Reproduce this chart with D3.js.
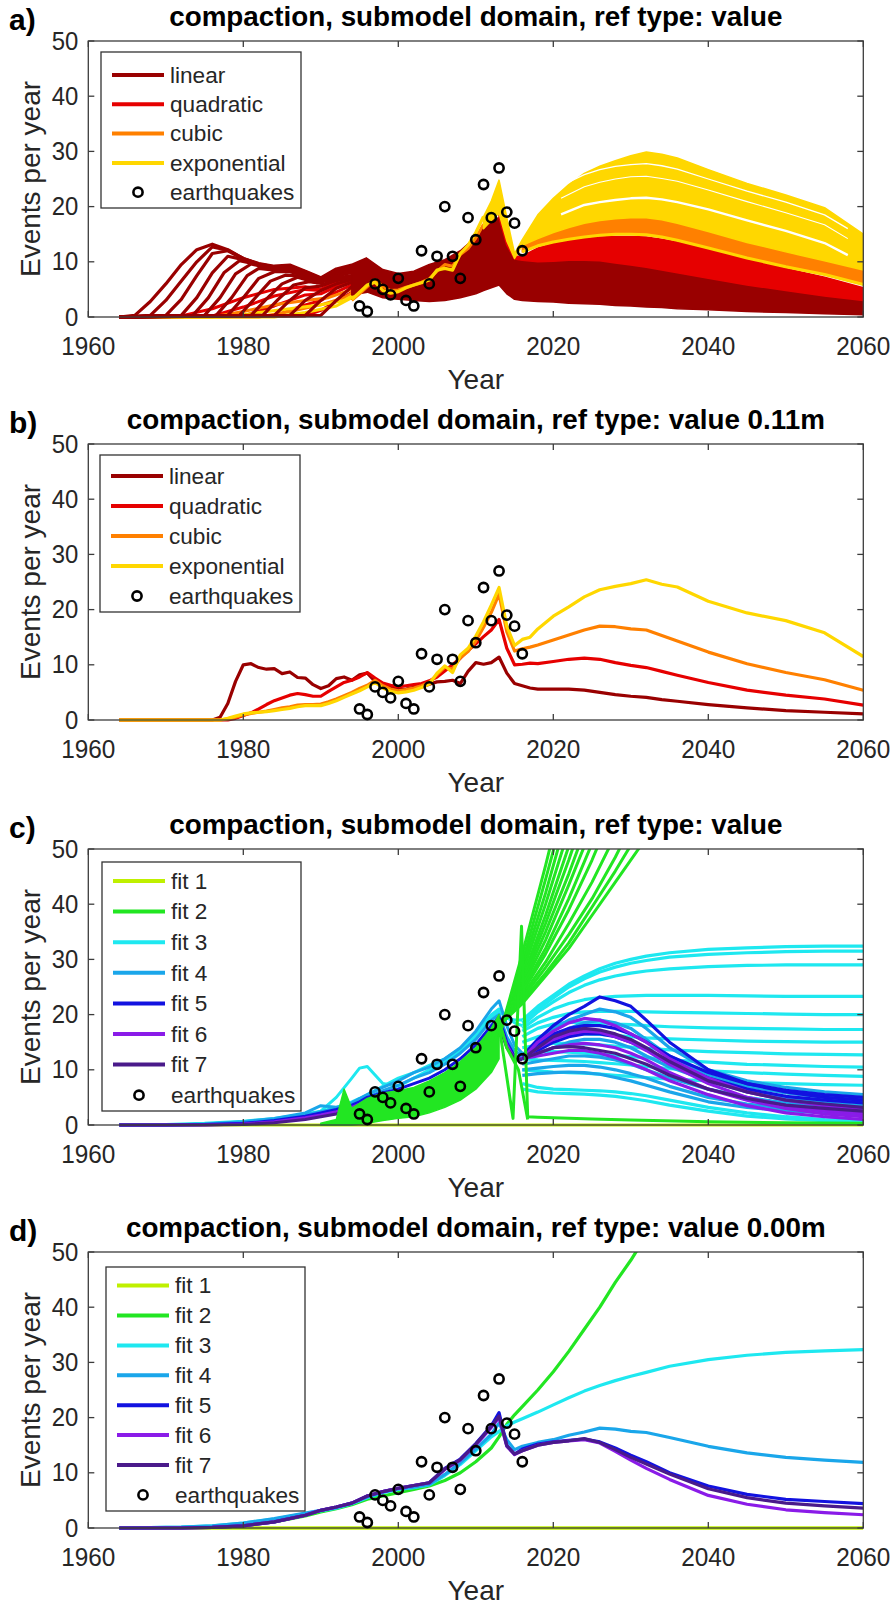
<!DOCTYPE html>
<html><head><meta charset="utf-8">
<script src="https://cdn.jsdelivr.net/npm/d3@7"></script>
<style>body{margin:0;background:#fff}svg text{font-family:'Liberation Sans',Arial,sans-serif}</style>
</head><body><svg id="c" width="896" height="1608"></svg>
<script>
// ================= DATA =================
const quakeYears  = [1995,1996,1997,1998,1999,2000,2001,2002,2003,2004,2005,2006,2007,2008,2009,2010,2011,2012,2013,2014,2015,2016];
const quakeCounts = [2,1,6,5,4,7,3,2,12,6,11,20,11,7,18,14,24,18,27,19,17,12];
const xTicks = [1960,1980,2000,2020,2040,2060];
const yTicks = [0,10,20,30,40,50];
const titles = ["compaction, submodel domain, ref type: value","compaction, submodel domain, ref type: value 0.11m","compaction, submodel domain, ref type: value","compaction, submodel domain, ref type: value 0.00m"];
const panelLabels = ["a)","b)","c)","d)"];
const modelNames = ["linear","quadratic","cubic","exponential"];
const fitNames = ["fit 1","fit 2","fit 3","fit 4","fit 5","fit 6","fit 7"];
const modelColors = ["#990000","#e60000","#ff8000","#ffd700"];
const fitColors = ["#bff000","#22e622","#1ee8f0","#1aa6ea","#1212e0","#8a1be8","#4a1a8a"];

// ---- panel a: ensemble (many runs) ----
const aLinearRuns = [
 [[1964,0],[1966,0.3],[1968,2.8],[1970,6],[1972,9.5],[1974,12.2],[1976,13.2],[1978,12.2],[1980,10.6],[1982,9.7],[1984,9.2],[1986,9.4],[1988,8.3],[1990,7.1],[1992,8.7],[1994,9.4],[1996,10.6]],
 [[1964,0],[1968,0.3],[1970,3],[1972,6.5],[1974,10],[1976,12.7],[1978,12.1],[1980,10.6],[1982,9.6],[1984,9.1],[1986,9.2],[1988,8.2],[1990,7],[1992,8.5],[1994,9.2],[1996,10.3]],
 [[1964,0],[1970,0.3],[1972,3.2],[1974,7.5],[1976,11.5],[1978,12],[1980,10.5],[1982,9.5],[1984,9],[1986,9.1],[1988,8.1],[1990,6.9],[1992,8.3],[1994,9.1],[1996,10]],
 [[1964,0],[1972,0.3],[1974,3.5],[1976,8],[1978,11],[1980,10.4],[1982,9.4],[1984,8.9],[1986,9],[1988,8],[1990,6.8],[1992,8.2],[1994,9],[1996,9.8]],
 [[1964,0],[1973.5,0.3],[1975.5,3.5],[1977.5,8],[1979.5,10.2],[1981.5,9.6],[1984,8.8],[1986,8.8],[1988,7.9],[1990,6.7],[1992,8],[1994,8.8],[1996,9.6]],
 [[1964,0],[1975,0.3],[1977,3.5],[1979,7.8],[1981,9.6],[1983,9],[1985,8.6],[1987,8.4],[1989,7.2],[1991,7],[1993,8.6],[1995,9],[1996,9.4]],
 [[1964,0],[1976.5,0.3],[1978.5,3.5],[1980.5,7.5],[1982,8.8],[1984,8.5],[1986,8.5],[1988,7.7],[1990,6.5],[1992,7.7],[1994,8.5],[1996,9.2]],
 [[1964,0],[1978,0.3],[1980,3.5],[1982,7],[1984,8.2],[1986,8.2],[1988,7.5],[1990,6.3],[1992,7.5],[1994,8.3],[1996,9]],
 [[1964,0],[1979.5,0.3],[1981.5,3.4],[1983.5,6.5],[1985.5,7.6],[1987.5,7.4],[1989.5,6.2],[1991.5,7],[1993.5,8.1],[1996,8.7]],
 [[1964,0],[1981,0.3],[1983,3.3],[1985,6],[1987,7.2],[1989,6.4],[1991,6.6],[1993,7.8],[1995,8.2],[1996,8.5]],
 [[1964,0],[1982.5,0.3],[1984.5,3.2],[1986.5,5.8],[1988.5,6.4],[1990.5,6],[1992.5,7.2],[1994.5,7.6],[1996,8.2]],
 [[1964,0],[1984,0.3],[1986,3],[1988,5.3],[1990,5.6],[1992,6.6],[1994,7.2],[1996,7.8]],
 [[1964,0],[1986,0.3],[1988,3],[1990,4.8],[1992,6],[1994,6.8],[1996,7.5]],
 [[1964,0],[1988,0.3],[1990,3],[1992,5.2],[1994,6.3],[1996,7.2]],
 [[1964,0],[1990,0.3],[1992,3],[1994,5.5],[1996,7]]
];
const aQuadRuns = [
 [[1964,0],[1972,0.2],[1976,1.5],[1980,3.5],[1984,5],[1988,5.5],[1990,5],[1992,6.5],[1994,7.5],[1996,8]],
 [[1964,0],[1976,0.2],[1980,1.8],[1984,3.8],[1988,5],[1990,4.8],[1992,6],[1994,7],[1996,7.8]],
 [[1964,0],[1980,0.2],[1984,2],[1988,4],[1990,4.2],[1992,5.5],[1994,6.5],[1996,7.5]],
 [[1964,0],[1984,0.2],[1988,2.2],[1990,3],[1992,4.5],[1994,5.8],[1996,7]],
 [[1964,0],[1988,0.2],[1990,1.2],[1992,2.8],[1994,4.5],[1996,6.3]]
];
const aCubicRuns = [
 [[1964,0],[1976,0],[1980,1],[1984,2.2],[1988,3],[1991,3.5],[1994,5],[1996,6.5]],
 [[1964,0],[1982,0],[1986,1],[1990,2.2],[1993,3.5],[1996,6]]
];
const aExpRuns = [
 [[1964,0],[1978,0],[1982,0.8],[1986,1.5],[1990,2.2],[1993,3],[1995,4.5],[1996,5.5]],
 [[1964,0],[1984,0],[1988,0.8],[1992,2],[1994,3.5],[1996,5.2]]
];
const aHistYears = [1994,1995,1996,1997,1998,1999,2000,2001,2002,2003,2004,2005,2006,2007,2008,2009,2010,2011];
const aCubicHist = [3,4.2,5.5,6.8,5.5,4.8,4.9,5.4,5.8,6.3,6.9,8.3,9.5,9.2,11.3,12.4,14.3,16.8];
const aExpHist   = [3.2,4.5,5.8,6.3,4.8,4.3,4.6,5.3,5.8,6.2,6.7,8.5,8.8,8.5,11.5,13,15.3,18.2];
const aBandYears  = [1994,1996,1998,2000,2002,2004,2006,2008,2010,2011,2012,2013,2014,2015,2016,2018,2020,2022,2024,2026,2028,2030,2032,2034,2036,2040,2045,2050,2055,2060];
const aLinearLow  = [4,4.5,3.5,3.2,3,2.8,3,3.5,4.2,4.8,5.3,5.8,4.2,3.2,3,2.8,2.7,2.5,2.4,2.3,2.1,2,1.8,1.7,1.5,1.3,1,0.8,0.6,0.4];
const aLinearHigh = [9.4,10.6,8.6,7.9,8.3,9.5,10.4,12,14.5,16.2,17.5,18,13,10.5,10.3,10,10.1,10.3,10.3,10.2,9.8,9.4,9,8.5,8,7,5.8,4.8,3.8,3];
const aQuadHigh   = [null,null,null,null,null,null,null,null,null,null,null,18.6,13.8,11,11,12.5,13.3,13.8,14.2,14.5,14.6,14.6,14.5,14.1,13.6,12.3,10.5,8.8,7.2,5.3];
const aExpThin    = [null,null,null,null,null,null,null,null,null,null,null,null,null,null,11.8,12.9,13.6,14.1,14.5,14.8,15,15,14.9,14.5,13.9,12.5,10.7,9.1,7.7,5.9];
const aCubicHigh  = [null,null,null,null,null,null,null,null,null,null,null,null,null,null,13,14.2,15.3,16.2,17,17.5,17.8,18,18,17.6,17,15.5,13.5,11.8,10.2,8.5];
const aExpLow     = [null,null,null,null,null,null,null,null,null,16,17.5,18.8,13.8,10.6,13,14.2,15.3,16.2,17,17.5,17.8,18,18,17.6,17,15.5,13.5,11.8,10.2,8.5];
const aExpHigh    = [null,null,null,null,null,null,null,null,null,18.2,21,24.8,18,11.5,14,18.5,21.5,24,26,27.3,28.3,29.2,29.9,29.5,28.8,26.7,24.2,22.1,19.8,15];
const aGapYears = [2021,2024,2026,2028,2030,2032,2034,2036,2040,2045,2050,2055,2058];
const aGapUpper = [23.8,25.8,26.7,27.3,27.6,27.8,27.4,26.8,25,22.8,20.8,18.5,16];
const aGapInner = [21.5,23.6,24.4,25,25.4,25.5,25.1,24.6,23,20.9,18.9,16.7,14.2];
const aGapMain  = [18.6,20.3,20.8,21.2,21.5,21.6,21.3,20.8,19.5,17.5,15.6,13.4,11.2];

// ---- panel b: one run per model ----
const bYears = [1964,1976,1977,1978,1979,1980,1981,1982,1983,1984,1985,1986,1987,1988,1989,1990,1991,1992,1993,1994,1995,1996,1997,1998,1999,2000,2001,2002,2003,2004,2005,2006,2007,2008,2009,2010,2011,2012,2013,2014,2015,2016,2017,2018,2020,2022,2024,2026,2028,2030,2032,2034,2036,2040,2045,2050,2055,2060];
const bLinear = [0,0,0.5,3,7,10,10.2,9.5,9.2,9.3,8.4,8.7,7.7,7.6,6.4,5.7,6.2,7.5,7.8,7.2,8.2,8.5,7,6.4,5.9,5.5,5.6,5.9,6,6.5,6.9,7,7.2,6.6,8.8,10.4,10.1,10.4,11.4,8.5,6.6,6.2,5.8,5.6,5.6,5.6,5.4,5,4.6,4.3,4.1,3.7,3.4,2.8,2.2,1.7,1.4,1.1];
const bQuad = [0,0,0,0,0.3,0.8,1.3,2,2.8,3.5,4,4.5,4.8,4.6,4.3,4.3,5.2,6,6.8,7.2,7.8,8.6,7.6,6.7,6.3,6,6.2,6.4,6.6,7.1,7.8,8.9,10,11.2,12.6,13.8,15.1,16.3,18.2,13,10,10.1,10.3,10.2,10.6,11,11.2,11,10.4,9.9,9.5,8.8,8.1,6.8,5.4,4.5,3.8,2.7];
const bCubic = [0,0,0,0.2,0.5,0.9,1.2,1.4,1.6,1.9,2.2,2.4,2.7,2.8,2.8,2.9,3.3,3.8,4.4,5,5.7,6.3,7.2,6.2,5.6,5.3,5.5,5.8,6.2,6.8,8.2,9.6,9.2,11.3,12.4,14.3,16.8,19.5,22.8,16,12.5,12.9,13.2,13.6,14.5,15.4,16.3,17,16.9,16.5,16.3,15.3,14.3,12.3,10.2,8.6,7.3,5.4];
const bExp = [0,0,0,0.3,0.7,1.1,1.3,1.4,1.5,1.7,1.9,2.1,2.4,2.6,2.6,2.6,3,3.5,4.1,4.7,5.3,6,6.8,5.8,5.2,4.9,5.1,5.4,5.9,6.5,8.5,9.8,8.6,11.8,13,15.2,17.8,20.8,24,17,13.5,14.6,15,16.5,18.8,20.5,22.3,23.6,24.2,24.7,25.4,24.6,24.1,21.5,19.4,18,15.8,11.5];

// ---- panel c: ensemble of fits ----
const cFit1Years = [1964,2060];
const cFit1 = [0,0];
const cHistYears = [1964,1970,1975,1980,1984,1988,1990,1992,1994,1995,1996,1998,2000,2002,2004,2006,2008,2010,2012,2013,2014,2015,2016];
const cHistCyan = [
 [0,0,0.1,0.3,0.7,1.5,2.5,5,8.5,10.3,10.6,7.5,7,8.5,10,11.5,13.5,16,19.5,20.5,19.5,19,19],
 [0,0.1,0.3,0.7,1.2,2,2.5,3.2,4.2,4.8,5.5,7,8.5,9.5,10.8,12,13.8,16.5,20,21,19.5,18.5,18]
];
const cHistLightBlue = [
 [0,0,0.2,0.6,1.2,2.2,3.5,3.2,4,4.8,5.5,6.8,8,9.5,10.5,12,14,17,21,22.5,18,14.5,13],
 [0,0,0.1,0.4,0.9,1.8,2.4,3,3.8,4.3,5,6.2,7.2,8.5,9.5,11,13,15.5,19,20,16,13.5,12.5]
];
const cHistBlue   = [[0,0,0.1,0.3,0.8,1.6,2.2,2.8,3.6,4.2,5,5.8,6.5,7.5,8.5,10,12,14.5,18,19.5,15,12.5,12]];
const cHistViolet = [[0,0,0,0.2,0.6,1.3,1.8,2.4,3.2,3.8,4.5,5,5.5,6.5,7.5,9,11,13.5,17,18.5,14.5,12,12]];
const cHistPurple = [[0,0,0,0.1,0.4,1,1.5,2,2.8,3.3,4,4.5,5,6,7,8.5,10.5,13,16.5,18,14,12,11.8]];
const cGreenBandYears = [1990,1992,1993,1994,1996,1998,2000,2002,2004,2006,2008,2010,2012,2013];
const cGreenLow  = [0,0,0,0,0.3,0.8,1.2,1.5,2.2,3.2,4.5,6.5,9.5,12];
const cGreenHigh = [0.3,1,6.5,3,4.8,5.8,6.2,6.8,8,9.5,11.5,14,17.5,20];
const cGreenFanYears = [2013,2016,2019,2022,2025,2028,2031,2034];
const cGreenFan = [
 [16,31,47,64,82,100,120,140],
 [16,29.5,44.5,60,77,95,115,135],
 [16.5,28.5,42,57,73,91,110,130],
 [17,27.5,40,53.5,68,84,101,119],
 [17,26.5,38,50.5,64,79,95,112],
 [17.5,26,36.5,48,60.5,74,89,105],
 [17.5,25.5,35,45.5,57,70,84,99],
 [18,25,33.5,43.5,54,66,79,93],
 [18,24.5,32,41,51,62,74,87],
 [18,24,31,39,48,58,69,81],
 [18,23.5,29.5,36.5,44,52.5,62,72],
 [18,23,28.5,34.5,41,48.5,57,66],
 [18,22.5,27.5,33,39.5,46,53,61],
 [18,22,27,32,38,44,50,57]
];
const cGreenDropYears = [2012,2013,2014.8,2015.9,2016.7,2018,2020,2025,2030,2040,2050,2060];
const cGreenDrop = [16,18,1.2,36,1.5,1.4,1.3,1.1,0.9,0.6,0.4,0.3];
const cGreenDrop2Years = [2012,2013,2014,2015.5,2016.7];
const cGreenDrop2 = [15,19,14,10,1];
const cFcYears = [2016,2018,2020,2022,2024,2026,2028,2030,2032,2035,2040,2045,2050,2055,2060];
const cCyanRuns = [
 [19,21.5,23.5,25.5,27,28.3,29.3,30,30.6,31.2,31.8,32.1,32.3,32.4,32.4],
 [18.5,21,23,25,26.5,27.7,28.6,29.3,29.8,30.4,30.9,31.2,31.4,31.5,31.5],
 [18,20.5,22.3,24,25.3,26.3,27,27.5,27.9,28.3,28.7,28.9,29,29,29],
 [17.5,19.5,21,22,22.7,23.1,23.3,23.4,23.5,23.5,23.5,23.4,23.3,23.3,23.3],
 [17,18.5,19.5,20.2,20.5,20.6,20.6,20.6,20.5,20.4,20.3,20.2,20.1,20,20],
 [16,17.5,18.3,18.6,18.6,18.5,18.3,18.2,18,17.8,17.6,17.5,17.4,17.3,17.3],
 [15,16,16.5,16.6,16.5,16.4,16.2,16,15.8,15.6,15.4,15.2,15.1,15,15],
 [14,14.5,14.8,14.8,14.7,14.5,14.3,14.1,13.9,13.6,13.3,13.1,12.9,12.8,12.7],
 [13,13.2,13.3,13.2,13,12.8,12.6,12.4,12.2,11.8,11.4,11,10.8,10.6,10.5],
 [12,11.8,11.7,11.6,11.5,11.3,11.1,10.9,10.6,10.2,9.8,9.5,9.2,9,8.8],
 [10,9.8,9.6,9.5,9.4,9.2,9,8.8,8.6,8.3,8,7.7,7.5,7.3,7.2],
 [7.5,6.8,6.5,6.4,6.3,6.2,6,5.7,5.3,4.5,3.2,2.2,1.5,1,0.8],
 [6.5,6,5.8,5.7,5.6,5.4,5.2,4.8,4.4,3.6,2.5,1.6,1.1,0.8,0.6]
];
const cLightBlueRuns = [
 [12,15,17.5,19,20,21,20.5,19.5,17.5,14,10,8,6.8,6,5.5],
 [12,14,16,17.5,18.5,19,18.5,17.5,15.5,12.5,9,7,5.8,5,4.5],
 [12,13,14,15,15.5,15.5,15,14,12.5,10.5,8,6,4.8,4,3.5],
 [11,11.5,12,12.5,12.5,12.3,11.8,11,10,8.5,6.5,5,4,3.2,2.8],
 [10,10.3,10.6,10.8,10.8,10.5,10,9.3,8.5,7,5,3.8,3,2.5,2.2],
 [9,9.3,9.5,9.6,9.5,9.2,8.6,8,7.2,6,4.2,3.2,2.6,2.2,2]
];
const cBlueRuns = [
 [12.5,15.5,18,20,21.5,23.2,22.5,21.5,19,15,10,7.5,6,5,4.5],
 [12,14.5,16.5,17.5,18,18,17.5,16.5,15,12.5,9.5,7.5,6.3,5.5,5],
 [12,13.5,15,16,16.5,16.5,16,15,13.8,11.5,8.5,6.5,5.2,4.5,4]
];
const cVioletRuns = [
 [12,15,17,18.5,19.3,19,18,16.5,15,12,8.5,6,4.5,3.5,3],
 [12,14,15.5,16.5,17,16.8,16,15,13.5,11,7.5,5,3.5,2.5,2],
 [12,13,14,14.5,14.8,14.5,14,13,11.8,9.5,6.5,4.5,3,2,1.5],
 [12,12.5,13,13.5,13.5,13,12.2,11.2,10,8,5.5,3.5,2.2,1.5,1]
];
const cPurpleRuns = [
 [12,14,16,17,17.5,17.2,16.5,15.5,14,11.5,8,6,4.5,3.8,3.2],
 [12,13,14,14.2,14,13.5,13,12,11,9,6.5,4.8,3.6,3,2.5]
];

// ---- panel d: one run per fit ----
const dYears = [1964,1968,1972,1976,1980,1984,1988,1990,1992,1994,1996,1998,2000,2002,2004,2006,2008,2010,2012,2013,2014,2015,2016,2018,2020,2022,2024,2026,2028,2030,2032,2035,2040,2045,2050,2055,2060];
const dFit1Years = [1964,2060];
const dFit1 = [0,0];
const dFit2 = [0,0,0.05,0.2,0.5,1.1,2.2,2.9,3.5,4.2,5.2,5.8,6.4,7,7.6,8.6,10,12,14.5,16.5,18.8,20.5,22,25,28.3,32,36,40,44.5,48.5,53,60,75,92,112,135,160];
const dFit3 = [0,0.05,0.15,0.4,0.9,1.6,2.6,3.1,3.6,4.4,5.5,6.4,7,7.3,7.8,9.5,11.5,14,16.5,17.5,18.5,19.2,19.8,21,22.3,23.6,24.8,25.8,26.7,27.5,28.2,29.3,30.5,31.3,31.8,32.1,32.3];
const dFit4 = [0,0.05,0.15,0.4,0.9,1.7,2.7,3.2,3.7,4.5,5.6,6.5,7.1,7.4,7.9,9.7,11.8,14.3,17,19,16,14.2,14.8,15.5,16,16.8,17.4,18.1,17.9,17.5,17.3,16.4,14.8,13.6,12.8,12.3,11.9];
const dFit5 = [0,0,0,0.1,0.4,1.1,2.3,3.2,3.8,4.5,5.8,6.6,7.2,7.7,8.2,10.8,12.5,15.3,18.5,20.9,15,13.4,14.3,15.2,15.6,15.9,16.1,15.6,14.5,13.2,12,10,7.6,6.1,5.2,4.8,4.4];
const dFit6 = [0,0,0,0.1,0.4,1.1,2.3,3.2,3.8,4.5,5.8,6.6,7.2,7.7,8.2,10.6,12.3,15,18.2,20,14.8,13.3,14,15,15.5,15.8,16,15.4,13.9,12.3,10.8,8.8,5.9,4.3,3.3,2.8,2.4];
const dFit7 = [0,0,0,0.1,0.4,1.1,2.3,3.2,3.8,4.5,5.8,6.6,7.2,7.7,8.2,10.7,12.4,15.2,18.4,20.3,14.9,13.4,14,15,15.5,15.8,16.2,15.5,14.2,12.8,11.6,9.8,7.1,5.5,4.5,4,3.6];

// ================= DRAWING =================
const svg = d3.select('#c');
const X0 = 88.3, X1 = 863.3, PH = 276;
const panelTops = [41,444,849,1252];
const x = d3.scaleLinear().domain([1960,2060]).range([X0,X1]);
const defs = svg.append('defs');

function makePanel(i){
  const top = panelTops[i], bot = top + PH;
  const y = d3.scaleLinear().domain([0,50]).range([bot,top]);
  defs.append('clipPath').attr('id','clip'+i).append('rect')
    .attr('x',X0).attr('y',top).attr('width',X1-X0).attr('height',PH+2.5);
  const g = svg.append('g');
  const data = g.append('g').attr('clip-path',`url(#clip${i})`);
  return {i, top, bot, y, g, data};
}
function gridLine(P, years, vals, color, w){
  const ln = d3.line().defined(d=>d[1]!=null).x(d=>x(d[0])).y(d=>P.y(d[1]));
  P.data.append('path').datum(years.map((yr,k)=>[yr,vals[k]]))
    .attr('d',ln).attr('fill','none').attr('stroke',color).attr('stroke-width',w)
    .attr('stroke-linejoin','round').attr('stroke-linecap','butt');
}
function pairLine(P, pairs, color, w){ gridLine(P, pairs.map(p=>p[0]), pairs.map(p=>p[1]), color, w); }
function band(P, years, lo, hi, color){
  const ar = d3.area().defined(d=>d[1]!=null && d[2]!=null)
    .x(d=>x(d[0])).y0(d=>P.y(d[1])).y1(d=>P.y(d[2]));
  P.data.append('path').datum(years.map((yr,k)=>[yr,lo[k],hi[k]]))
    .attr('d',ar).attr('fill',color).attr('stroke',color).attr('stroke-width',1.5).attr('stroke-linejoin','round');
}
function axes(P){
  const g = P.g, y = P.y, ax = '#3c3c3c';
  g.append('rect').attr('x',X0).attr('y',P.top).attr('width',X1-X0).attr('height',PH)
    .attr('fill','none').attr('stroke',ax).attr('stroke-width',1.3);
  xTicks.forEach(t=>{
    g.append('line').attr('x1',x(t)).attr('x2',x(t)).attr('y1',P.bot).attr('y2',P.bot-6).attr('stroke',ax).attr('stroke-width',1.3);
    g.append('line').attr('x1',x(t)).attr('x2',x(t)).attr('y1',P.top).attr('y2',P.top+6).attr('stroke',ax).attr('stroke-width',1.3);
    g.append('text').attr('transform',`translate(${x(t)},${P.bot+38}) scale(0.92,1)`).attr('text-anchor','middle')
      .attr('font-size',26.5).attr('fill','#262626').text(t);
  });
  yTicks.forEach(t=>{
    g.append('line').attr('x1',X0).attr('x2',X0+6).attr('y1',y(t)).attr('y2',y(t)).attr('stroke',ax).attr('stroke-width',1.3);
    g.append('line').attr('x1',X1).attr('x2',X1-6).attr('y1',y(t)).attr('y2',y(t)).attr('stroke',ax).attr('stroke-width',1.3);
    g.append('text').attr('transform',`translate(${X0-10},${y(t)+8.5}) scale(0.92,1)`).attr('text-anchor','end')
      .attr('font-size',26).attr('fill','#262626').text(t);
  });
  g.append('text').attr('x',(X0+X1)/2).attr('y',P.bot+72).attr('text-anchor','middle')
    .attr('font-size',28).attr('fill','#262626').text('Year');
  g.append('text').attr('transform',`translate(30,${(P.top+P.bot)/2}) rotate(-90)`)
    .attr('text-anchor','middle').attr('dominant-baseline','central')
    .attr('font-size',28).attr('fill','#262626').text('Events per year');
  g.append('text').attr('x',(X0+X1)/2).attr('y',P.top-15).attr('text-anchor','middle')
    .attr('font-size',27.8).attr('font-weight','bold').attr('fill','#000').text(titles[P.i]);
  g.append('text').attr('x',9).attr('y',P.top-11).attr('font-size',30).attr('font-weight','bold')
    .attr('fill','#000').text(panelLabels[P.i]);
}
function quakes(P){
  P.g.selectAll(null).data(quakeYears).enter().append('circle')
    .attr('cx',d=>x(d)).attr('cy',(d,k)=>P.y(quakeCounts[k])).attr('r',4.6)
    .attr('fill','none').attr('stroke','#000').attr('stroke-width',2.6);
}
function legend(P, names, colors, box){
  const g = P.g.append('g');
  const n = names.length + 1;
  g.append('rect').attr('x',box.x0).attr('y',P.top+box.t).attr('width',box.x1-box.x0)
    .attr('height',box.b-box.t).attr('fill','#fff').attr('stroke','#333').attr('stroke-width',1.3);
  for(let k=0;k<n;k++){
    const yy = P.top + box.e0 + k*box.sp;
    if(k<names.length){
      g.append('line').attr('x1',box.x0+11).attr('x2',box.x0+63).attr('y1',yy).attr('y2',yy)
        .attr('stroke',colors[k]).attr('stroke-width',4);
    } else {
      g.append('circle').attr('cx',box.x0+37).attr('cy',yy).attr('r',4.6)
        .attr('fill','none').attr('stroke','#000').attr('stroke-width',2.6);
    }
    g.append('text').attr('x',box.x0+69).attr('y',yy+7.8).attr('font-size',22.6).attr('fill','#262626')
      .text(k<names.length ? names[k] : 'earthquakes');
  }
}

// ---- Panel a ----
{
  const P = makePanel(0);
  const [cL,cQ,cC,cE] = modelColors;
  aQuadRuns.forEach(r=>pairLine(P,r,cQ,3));
  aCubicRuns.forEach(r=>pairLine(P,r,cC,3));
  aExpRuns.forEach(r=>pairLine(P,r,cE,3));
  aLinearRuns.forEach(r=>pairLine(P,r,cL,3.2));
  band(P,aBandYears,aLinearLow,aLinearHigh,cL);
  band(P,aBandYears,aLinearHigh,aQuadHigh,cQ);
  gridLine(P,aHistYears,aCubicHist,cC,3);
  band(P,aBandYears,aExpThin,aCubicHigh,cC);
  gridLine(P,aBandYears,aExpThin,cE,3);
  band(P,aBandYears,aExpLow,aExpHigh,cE);
  gridLine(P,aHistYears,aExpHist,cE,3.2);
  gridLine(P,aGapYears,aGapUpper,'#fff',1.3);
  gridLine(P,aGapYears,aGapInner,'#fff',1.1);
  gridLine(P,aGapYears,aGapMain,'#fff',2.4);
  axes(P); quakes(P);
  legend(P,modelNames,modelColors,{x0:101,x1:301,t:11,b:167,e0:34,sp:29.3});
}
// ---- Panel b ----
{
  const P = makePanel(1);
  [bLinear,bQuad,bCubic,bExp].forEach((v,k)=>gridLine(P,bYears,v,modelColors[k],3.2));
  axes(P); quakes(P);
  legend(P,modelNames,modelColors,{x0:100,x1:300,t:11,b:168,e0:32,sp:30});
}
// ---- Panel c ----
{
  const P = makePanel(2);
  gridLine(P,cFit1Years,cFit1,fitColors[0],3.2);
  cHistCyan.forEach(v=>gridLine(P,cHistYears,v,fitColors[2],3));
  cHistLightBlue.forEach(v=>gridLine(P,cHistYears,v,fitColors[3],3));
  cCyanRuns.forEach(v=>gridLine(P,cFcYears,v,fitColors[2],3.2));
  cLightBlueRuns.forEach(v=>gridLine(P,cFcYears,v,fitColors[3],3.2));
  cHistBlue.forEach(v=>gridLine(P,cHistYears,v,fitColors[4],3));
  cBlueRuns.forEach(v=>gridLine(P,cFcYears,v,fitColors[4],3.2));
  cHistViolet.forEach(v=>gridLine(P,cHistYears,v,fitColors[5],3));
  cVioletRuns.forEach(v=>gridLine(P,cFcYears,v,fitColors[5],3.2));
  cHistPurple.forEach(v=>gridLine(P,cHistYears,v,fitColors[6],3));
  cPurpleRuns.forEach(v=>gridLine(P,cFcYears,v,fitColors[6],3.2));
  band(P,cGreenBandYears,cGreenLow,cGreenHigh,fitColors[1]);
  cGreenFan.forEach(v=>gridLine(P,cGreenFanYears,v,fitColors[1],3));
  gridLine(P,cGreenDropYears,cGreenDrop,fitColors[1],3);
  gridLine(P,cGreenDrop2Years,cGreenDrop2,fitColors[1],3);
  axes(P); quakes(P);
  legend(P,fitNames,fitColors,{x0:102,x1:301,t:13,b:262,e0:32,sp:30.6});
}
// ---- Panel d ----
{
  const P = makePanel(3);
  gridLine(P,dFit1Years,dFit1,fitColors[0],3.4);
  [dFit2,dFit3,dFit4,dFit5,dFit6,dFit7].forEach((v,k)=>gridLine(P,dYears,v,fitColors[k+1],3.2));
  axes(P); quakes(P);
  legend(P,fitNames,fitColors,{x0:106,x1:305,t:15,b:259,e0:33.6,sp:29.9});
}
</script></body></html>
